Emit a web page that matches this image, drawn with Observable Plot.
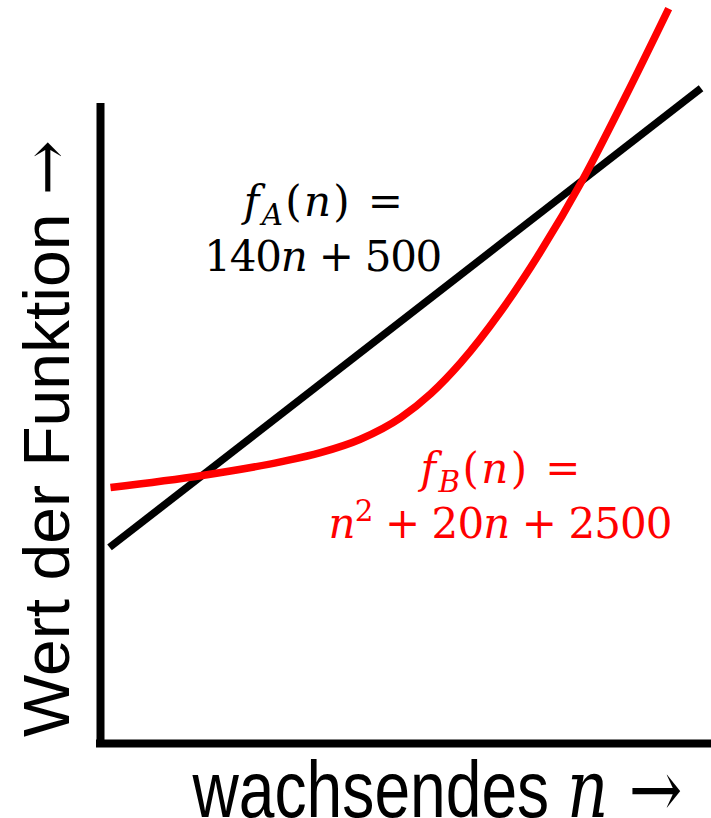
<!DOCTYPE html>
<html>
<head>
<meta charset="utf-8">
<script src="https://cdn.jsdelivr.net/npm/d3@7"></script>
<script src="https://cdn.jsdelivr.net/npm/@observablehq/plot@0.6"></script>
<style>
  html, body { margin: 0; padding: 0; background: #fff; }
  #chart svg { display: block; }
</style>
</head>
<body>
<div id="chart"></div>
<script>
// Problem size n and function value f shown on the two axes (no ticks).
const nDomain = [-1.4, 127.2];
const fDomain = [-6876, 17423];

// f_A(n) = 140n + 500 : straight line
const lineAN = [0.5, 125];
const lineAF = [570, 18000];

// f_B(n) = n^2 + 20n + 2500 : growing curve
const curveBN = [0.7, 20, 36.5, 44.9, 53.3, 61.8, 68.1, 74.4, 82.8, 91.2, 100, 109.1, 118.2];
const curveBF = [2844, 3300, 3816, 4165, 4674, 5494, 6401, 7578, 9514, 11792, 14500, 17688, 21029];

// Formula labels ($...$ marks math; _{} subscript, ^{} superscript)
const labelText = ["$f_{A}(n) =$", "$140n + 500$", "$f_{B}(n) =$", "$n^{2} + 20n + 2500$"];
const labelN = [45.5, 45.5, 82.8, 82.8];
const labelF = [13679, 11591, 3542, 1454];
const labelSeries = ["A", "A", "B", "B"];

const yLabel = "Wert der Funktion $→$";
const xLabel = "wachsendes $n →$";

const seriesA = lineAN.map((n, i) => ({n, f: lineAF[i]}));
const seriesB = curveBN.map((n, i) => ({n, f: curveBF[i]}));
const labels = labelText.map((text, i) => ({text, n: labelN[i], f: labelF[i], s: labelSeries[i]}));

const SANS = "'Liberation Sans', Arial, Helvetica, sans-serif";
const MATH = "'DejaVu Serif', 'Liberation Serif', serif";
const colors = {A: "#000000", B: "#ff0000"};

const chart = Plot.plot({
  width: 711,
  height: 818,
  marginLeft: 100,
  marginRight: 0,
  marginTop: 103,
  marginBottom: 75,
  x: {domain: nDomain, axis: null},
  y: {domain: fDomain, axis: null},
  style: {background: "#fff", overflow: "visible"},
  marks: [
    Plot.ruleX([nDomain[0]], {stroke: "#000", strokeWidth: 8}),
    Plot.ruleY([fDomain[0]], {stroke: "#000", strokeWidth: 8, strokeLinecap: "square"}),
    Plot.line(seriesA, {x: "n", y: "f", stroke: colors.A, strokeWidth: 7.5, strokeLinecap: "butt"}),
    Plot.line(seriesB, {x: "n", y: "f", stroke: colors.B, strokeWidth: 7.5, strokeLinecap: "butt", curve: "monotone-x"}),
    Plot.text(labels, {
      x: "n", y: "f", text: "text", fill: d => colors[d.s],
      fontSize: 42, fontFamily: MATH, textAnchor: "middle", lineAnchor: "middle"
    }),
    Plot.text([yLabel], {
      text: d => d, frameAnchor: "left", rotate: -90, dx: -52.8, dy: 15,
      fontSize: 65, fontFamily: SANS, fill: "#000", textAnchor: "middle", lineAnchor: "middle"
    }),
    Plot.text([xLabel], {
      text: d => d, frameAnchor: "bottom", dx: 31.5, dy: 47.4,
      fontSize: 80, fontFamily: SANS, fill: "#000", textAnchor: "middle", lineAnchor: "middle"
    })
  ]
});

document.getElementById("chart").append(chart);

// Rebuild "$...$" strings as tspans: italic letters, sub/superscripts in the math font.
function renderRich(el, src, px) {
  const t = d3.select(el).style("white-space", "pre");
  t.text(null);
  let shift = 0;
  const add = (str, attrs) => {
    const s = t.append("tspan").text(str);
    for (const k in attrs) s.attr(k, attrs[k]);
    return s;
  };
  const reset = (s) => { if (shift) { s.attr("dy", -shift); shift = 0; } };
  src.split("$").forEach((part, i) => {
    if (!part) return;
    if (i % 2 === 0) { reset(add(part, {})); return; }
    const re = /_\{([^}]*)\}|\^\{([^}]*)\}|([A-Za-z]+)|([^A-Za-z_^]+)/g;
    let m;
    while ((m = re.exec(part))) {
      if (m[1] != null) {
        const s = add(m[1], {"font-family": MATH, "font-style": "italic", "font-size": px * 0.7});
        s.attr("dy", px * 0.22 - shift); shift = px * 0.22;
      } else if (m[2] != null) {
        const s = add(m[2], {"font-family": MATH, "font-size": px * 0.7});
        s.attr("dy", -px * 0.4 - shift); shift = -px * 0.4;
      } else if (m[3] != null) {
        reset(add(m[3], {"font-family": MATH, "font-style": "italic"}));
      } else {
        reset(add(m[4], {"font-family": MATH}));
      }
    }
  });
}

// Target widths of the texts: axis titles are squeezed, formulas only re-spaced.
const fitWidth = new Map([
  [yLabel, [597, "spacingAndGlyphs"]],
  [xLabel, [490, "spacingAndGlyphs"]],
  [labelText[0], [159, "spacing"]],
  [labelText[1], [238, "spacing"]],
  [labelText[2], [160, "spacing"]],
  [labelText[3], [344, "spacing"]]
]);

d3.select(chart).selectAll("text").each(function () {
  const src = this.textContent;
  if (!src.includes("$")) return;
  const g = this.closest("[font-size]");
  const px = g ? parseFloat(g.getAttribute("font-size")) : 40;
  renderRich(this, src, px);
  if (fitWidth.has(src)) {
    const [w, mode] = fitWidth.get(src);
    d3.select(this).attr("textLength", w).attr("lengthAdjust", mode);
  }
});
</script>
</body>
</html>
